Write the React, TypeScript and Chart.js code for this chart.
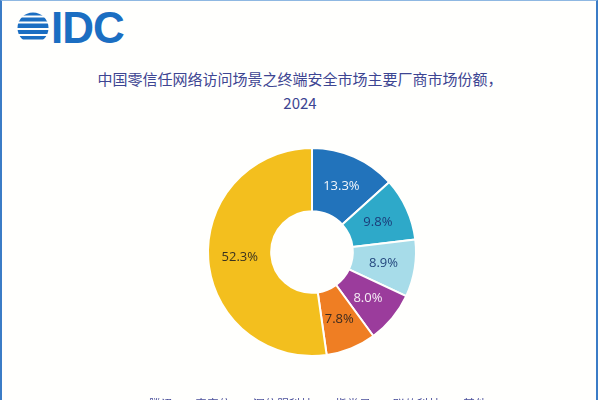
import React, { useEffect, useRef } from "react";
import { Chart, registerables } from "chart.js";

Chart.register(...registerables);

const vendors = ["腾讯", "奇安信", "深信服科技", "指掌易", "联软科技", "其他"];
const shares = [13.3, 9.8, 8.9, 8.0, 7.8, 52.3];
const sliceColors = ["#2273bb", "#2ea9c9", "#a7dce9", "#9b3c9c", "#ef7e23", "#f3bf1e"];
const labelColors = ["#f2f6fb", "#1c3d7a", "#24477e", "#f6eef6", "#3a2a20", "#3a3320"];
const titleLines = ["中国零信任网络访问场景之终端安全市场主要厂商市场份额，", "2024"];

const BG = "#fffffd";

const sliceLabelPlugin = {
  id: "sliceLabels",
  afterDatasetsDraw(chart: any) {
    const ctx = chart.ctx;
    const meta = chart.getDatasetMeta(0);
    ctx.save();
    ctx.font = "13px 'Open Sans', 'Noto Sans', sans-serif";
    ctx.textAlign = "center";
    ctx.textBaseline = "middle";
    meta.data.forEach((arc: any, i: number) => {
      const p = arc.getCenterPoint();
      ctx.fillStyle = labelColors[i];
      ctx.fillText(shares[i].toFixed(1) + "%", p.x, p.y);
    });
    ctx.restore();
  },
};

function Globe() {
  const bands = [4, 9.5, 15.5, 22, 28];
  const heights = [3.5, 4, 4.5, 4, 3.5];
  return (
    <svg width="40" height="40" viewBox="0 0 40 40" style={{ position: "absolute", left: 14, top: 8 }}>
      <defs>
        <clipPath id="gclip">
          <circle cx="19" cy="20" r="15.5" />
        </clipPath>
      </defs>
      <g clipPath="url(#gclip)">
        {bands.map((y, i) => (
          <rect key={i} x={0} y={y} width={40} height={heights[i]} fill="#1b6ec2" />
        ))}
      </g>
    </svg>
  );
}

export default function App() {
  const canvasRef = useRef<HTMLCanvasElement | null>(null);

  useEffect(() => {
    document.body.style.margin = "0";
    const chart = new Chart(canvasRef.current as HTMLCanvasElement, {
      type: "doughnut",
      data: {
        labels: vendors,
        datasets: [
          {
            data: shares,
            backgroundColor: sliceColors,
            borderColor: BG,
            borderWidth: 2,
            radius: 104,
            cutout: 53,
          } as any,
        ],
      },
      options: {
        responsive: false,
        animation: false,
        events: [],
        layout: { padding: { left: 24, right: 0, top: 0, bottom: 0 } },
        plugins: {
          legend: {
            position: "bottom",
            labels: {
              font: { size: 12, family: "'Noto Sans CJK SC', sans-serif" },
              color: "#4a4f9a",
              usePointStyle: true,
              pointStyle: "line",
              boxWidth: 6,
              padding: 10,
            },
          },
          tooltip: { enabled: false },
        },
      },
      plugins: [sliceLabelPlugin],
    });
    return () => chart.destroy();
  }, []);

  return (
    <div
      style={{
        position: "fixed",
        left: 0,
        top: 0,
        width: 600,
        height: 400,
        overflow: "hidden",
        background: BG,
      }}
    >
      <div
        style={{
          position: "absolute",
          left: 0,
          top: 0,
          width: 598,
          height: 400,
          borderLeft: "2px solid #3b7cc6",
          borderRight: "2px solid #3b7cc6",
          borderTop: "1px solid #8fb8e2",
          boxSizing: "border-box",
          zIndex: 2,
          pointerEvents: "none",
        }}
      />
      <Globe />
      <div
        style={{
          position: "absolute",
          left: 51,
          top: 4,
          fontFamily: "'Liberation Sans', Arial, sans-serif",
          fontWeight: 700,
          fontSize: 44,
          lineHeight: "48px",
          color: "#1b6ec2",
          letterSpacing: -1,
        }}
      >
        IDC
      </div>
      <div
        style={{
          position: "absolute",
          left: 0,
          top: 67,
          width: 600,
          textAlign: "center",
          fontFamily: "'Noto Sans CJK SC', sans-serif",
          fontSize: 15,
          lineHeight: "24px",
          color: "#3d4592",
        }}
      >
        {titleLines.map((t, i) => (
          <div key={i}>{t}</div>
        ))}
      </div>
      <canvas
        ref={canvasRef}
        width={600}
        height={304}
        style={{ position: "absolute", left: 0, top: 116, width: 600, height: 304 }}
      />
    </div>
  );
}
